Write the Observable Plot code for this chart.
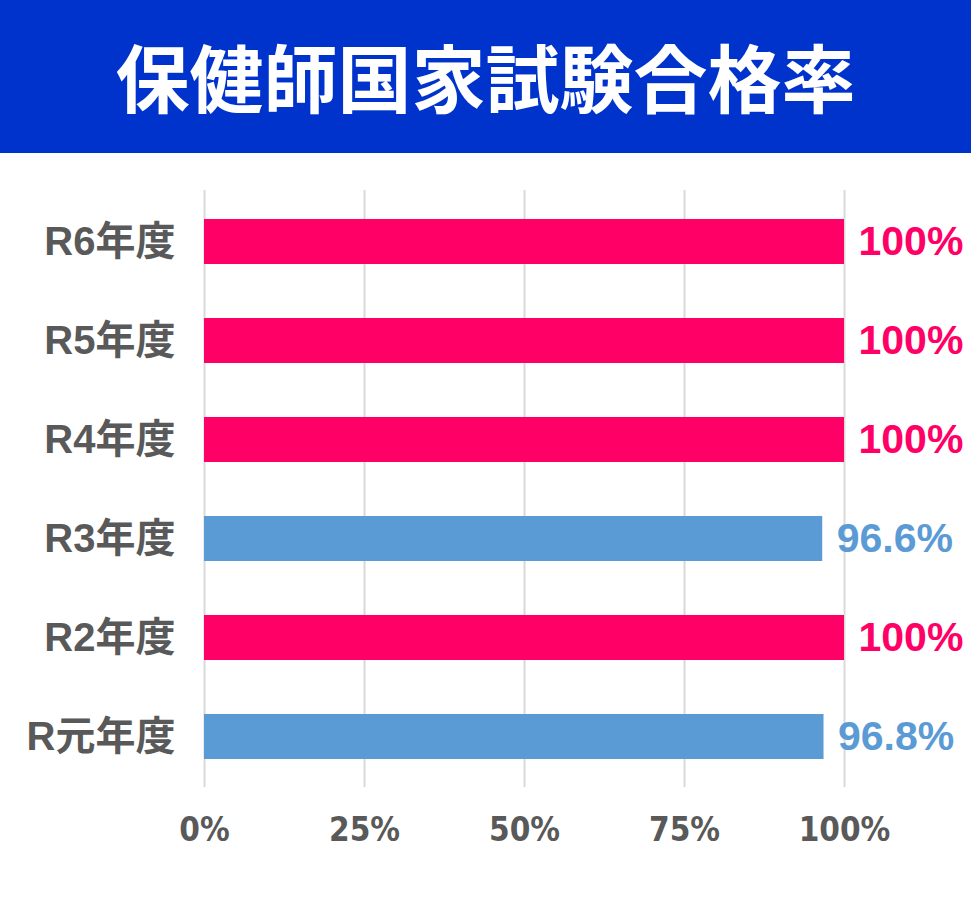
<!DOCTYPE html>
<html>
<head>
<meta charset="utf-8">
<script src="https://cdn.jsdelivr.net/npm/d3@7"></script>
<script src="https://cdn.jsdelivr.net/npm/@observablehq/plot@0.6"></script>
<style>
  html, body { margin: 0; padding: 0; background: #fff; }
  #title {
    width: 971px; height: 153px; background: #0033CC; color: #fff;
    font-family: "Noto Sans CJK JP", sans-serif; font-weight: 700;
    font-size: 74px; line-height: 150px; text-align: center;
  }
  #chart svg { display: block; }
  #chart g[aria-label="x-axis tick label"] text { font-stretch: condensed; }
</style>
</head>
<body>
<div id="title">保健師国家試験合格率</div>
<div id="chart"></div>
<script>
const years = ["R6年度", "R5年度", "R4年度", "R3年度", "R2年度", "R元年度"];
const rates = [100, 100, 100, 96.6, 100, 96.8];
const rateLabels = ["100%", "100%", "100%", "96.6%", "100%", "96.8%"];
const xTicks = [0, 25, 50, 75, 100];
const pink = "#FF0066";
const blue = "#5B9BD5";

const data = years.map((y, i) => ({
  year: y, rate: rates[i], label: rateLabels[i],
  color: rates[i] >= 100 ? pink : blue
}));

const chart = Plot.plot({
  width: 971,
  height: 758,
  marginTop: 37,
  marginBottom: 124,
  marginLeft: 204,
  marginRight: 127,
  style: { background: "#fff", overflow: "visible" },
  x: { domain: [0, 100], ticks: xTicks },
  y: { domain: years, paddingInner: 0.55, paddingOuter: 0.275 },
  marks: [
    Plot.gridX(xTicks, { stroke: "#D9D9D9", strokeOpacity: 1, strokeWidth: 2 }),
    Plot.barX(data, { x: "rate", y: "year", fill: "color" }),
    Plot.text(data, {
      x: "rate", y: "year", text: "label", fill: "color",
      textAnchor: "start", dx: 14, fontSize: 41, fontWeight: "bold",
      fontFamily: "'Liberation Sans', Arial, sans-serif"
    }),
    Plot.axisY({
      tickSize: 0, tickPadding: 29, fontSize: 40, fontWeight: "bold",
      fill: "#595959", label: null,
      fontFamily: "'Liberation Sans', 'Noto Sans CJK JP', sans-serif"
    }),
    Plot.axisX({
      ticks: xTicks, tickSize: 0, tickPadding: 30, fontSize: 33, fontWeight: "bold",
      fill: "#595959", label: null, tickFormat: d => d + "%",
      fontFamily: "'Liberation Sans Narrow', 'DejaVu Sans Condensed', 'DejaVu Sans', sans-serif"
    })
  ]
});
document.getElementById("chart").appendChild(chart);
</script>
</body>
</html>
